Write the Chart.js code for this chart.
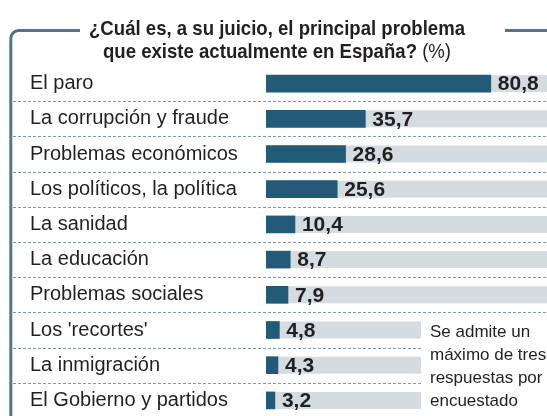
<!DOCTYPE html>
<html>
<head>
<meta charset="utf-8">
<script src="https://cdn.jsdelivr.net/npm/chart.js"></script>
<style>
  html, body { margin: 0; padding: 0; background: #fff; overflow: hidden; }
  #wrap { width: 547px; height: 430px; }
</style>
</head>
<body>
<div id="wrap"><canvas id="problemas" width="547" height="430"></canvas></div>
<script>
// data
const problemas = ['El paro', 'La corrupción y fraude', 'Problemas económicos',
  'Los políticos, la política', 'La sanidad', 'La educación', 'Problemas sociales',
  "Los 'recortes'", 'La inmigración', 'El Gobierno y partidos'];
const porcentajes = [80.8, 35.7, 28.6, 25.6, 10.4, 8.7, 7.9, 4.8, 4.3, 3.2];
const tituloLinea1 = '¿Cuál es, a su juicio, el principal problema';
const tituloLinea2 = 'que existe actualmente en España?';
const tituloUnidad = ' (%)';
const nota = ['Se admite un', 'máximo de tres', 'respuestas por', 'encuestado'];

const AZUL = '#235a78';
const GRIS_PISTA = '#d4dce2';
const MARCO = '#4f7590';
const TEXTO = '#231f20';
const NOTA_X = 421; // the tracks of the last rows stop where the note begins

const fmt = v => v.toFixed(1).replace('.', ',');

// grey tracks behind bars, dashed separators, frame, title and note
const decor = {
  id: 'decor',
  beforeDatasetsDraw(chart) {
    const ctx = chart.ctx, area = chart.chartArea;
    const bars = chart.getDatasetMeta(0).data;
    ctx.save();
    ctx.fillStyle = GRIS_PISTA;
    bars.forEach((b, i) => {
      const right = i >= 7 ? NOTA_X : area.right;
      ctx.fillRect(area.left, b.y - b.height / 2, right - area.left, b.height);
    });
    // separators
    ctx.strokeStyle = '#8596a3';
    ctx.lineWidth = 1;
    ctx.setLineDash([3, 2]);
    for (let i = 0; i < bars.length - 1; i++) {
      const y = Math.round((bars[i].y + bars[i + 1].y) / 2) + 0.5;
      const right = i >= 7 ? NOTA_X : area.right;
      ctx.beginPath();
      ctx.moveTo(13, y);
      ctx.lineTo(right, y);
      ctx.stroke();
    }
    ctx.setLineDash([]);
    // frame
    ctx.strokeStyle = MARCO;
    ctx.lineWidth = 3;
    ctx.beginPath();
    ctx.moveTo(10.8, 430);
    ctx.lineTo(10.8, 39);
    ctx.arcTo(10.8, 30.5, 19, 30.5, 8);
    ctx.lineTo(80, 30.5);
    ctx.stroke();
    ctx.beginPath();
    ctx.moveTo(505, 30.5);
    ctx.lineTo(547, 30.5);
    ctx.stroke();
    // title, condensed horizontally to the width of the original
    ctx.fillStyle = TEXTO;
    ctx.textBaseline = 'alphabetic';
    ctx.textAlign = 'left';
    const bold = 'bold 21px "Liberation Sans", Arial, sans-serif';
    const reg = '21px "Liberation Sans", Arial, sans-serif';
    ctx.font = bold;
    const w1 = ctx.measureText(tituloLinea1).width;
    const k = 376 / w1;
    const w2 = ctx.measureText(tituloLinea2).width;
    ctx.font = reg;
    const w3 = ctx.measureText(tituloUnidad).width;
    ctx.save();
    ctx.translate(277, 0);
    ctx.scale(k, 1);
    ctx.font = bold;
    ctx.fillText(tituloLinea1, -w1 / 2, 35);
    const x0 = -(w2 + w3) / 2;
    ctx.fillText(tituloLinea2, x0, 58);
    ctx.font = reg;
    ctx.fillText(tituloUnidad, x0 + w2, 58);
    ctx.restore();
    // note
    ctx.font = '17px "Liberation Sans", Arial, sans-serif';
    nota.forEach((t, i) => ctx.fillText(t, 430, 337 + i * 23));
    ctx.restore();
  },
  afterDatasetsDraw(chart) {
    const ctx = chart.ctx;
    ctx.save();
    ctx.fillStyle = TEXTO;
    ctx.font = 'bold 21px "Liberation Sans", Arial, sans-serif';
    ctx.textAlign = 'left';
    ctx.textBaseline = 'middle';
    chart.getDatasetMeta(0).data.forEach((b, i) => {
      ctx.fillText(fmt(porcentajes[i]), b.x + 7, b.y + 1);
    });
    ctx.restore();
  }
};

new Chart('problemas', {
  type: 'bar',
  data: {
    labels: problemas,
    datasets: [{
      data: porcentajes,
      backgroundColor: AZUL,
      borderWidth: 0,
      barThickness: 17
    }]
  },
  options: {
    indexAxis: 'y',
    responsive: false,
    animation: false,
    events: [],
    layout: { padding: { top: 66, left: 30, right: 0, bottom: 12 } },
    plugins: { legend: { display: false }, tooltip: { enabled: false } },
    scales: {
      x: { display: false, min: 0, max: 101 },
      y: {
        grid: { display: false },
        border: { display: false },
        afterFit(scale) { scale.width = 236; },
        ticks: {
          crossAlign: 'far',
          padding: 0,
          color: TEXTO,
          font: { family: '"Liberation Sans", Arial, sans-serif', size: 20 }
        }
      }
    }
  },
  plugins: [decor]
});
</script>
</body>
</html>
